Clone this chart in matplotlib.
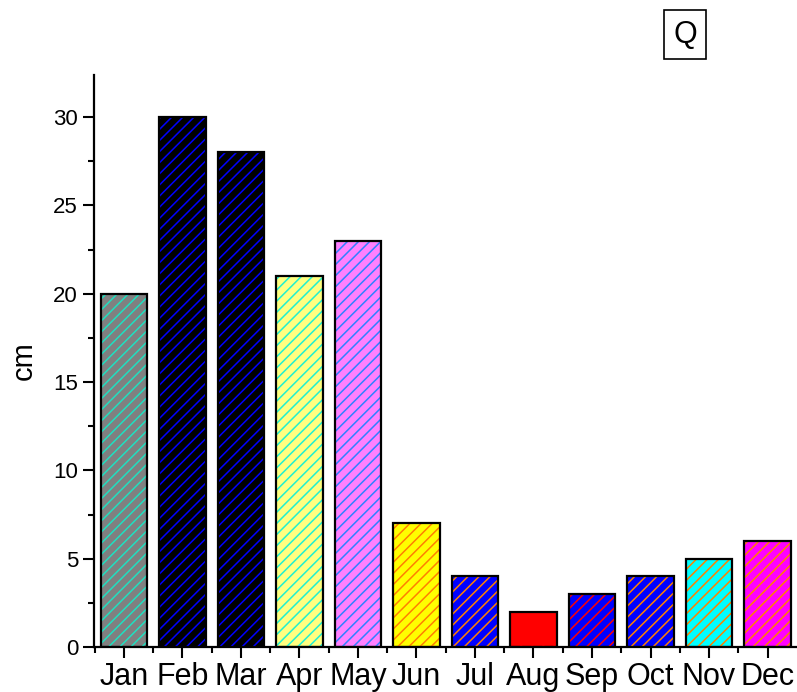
import matplotlib
matplotlib.use("Agg")
import matplotlib.pyplot as plt
from matplotlib.ticker import MultipleLocator, FixedLocator

plt.rcParams['font.family'] = ['Liberation Sans', 'DejaVu Sans']
plt.rcParams['hatch.linewidth'] = 1.1

months = ['Jan', 'Feb', 'Mar', 'Apr', 'May', 'Jun', 'Jul', 'Aug', 'Sep', 'Oct', 'Nov', 'Dec']
values = [20, 30, 28, 21, 23, 7, 4, 2, 3, 4, 5, 6]
face_colors = ['#808080', '#000000', '#000000', '#ffff80', '#ff80ff', '#ffff00',
               '#0000ff', '#ff0000', '#0000ff', '#0000ff', '#00ffff', '#ff00ff']
hatch_colors = ['#20e0c0', '#0000ff', '#0000ff', '#20f0d0', '#3080ff', '#ff8000',
                '#ff8000', '#ff0000', '#ff0000', '#ff8000', '#ff8000', '#ff8000']

fig = plt.figure(figsize=(7.97, 6.92), dpi=100)
ax = fig.add_axes([0.118, 0.065, 0.881, 0.827])

x = list(range(len(months)))
w = 0.79
ax.bar(x, values, width=w, color=face_colors, linewidth=0, zorder=2)
for xi, v, hc in zip(x, values, hatch_colors):
    ax.bar(xi, v, width=w, facecolor='none', edgecolor=hc, hatch='///', linewidth=0, zorder=3)
ax.bar(x, values, width=w, facecolor='none', edgecolor='black', linewidth=1.6, zorder=4)

ax.set_xlim(-0.51, 11.49)
ax.set_ylim(0, 32.4)
ax.set_xticks(x)
ax.set_xticklabels(months, fontsize=22)
ax.xaxis.set_minor_locator(FixedLocator([i - 0.5 for i in range(13)]))
ax.yaxis.set_major_locator(MultipleLocator(5))
ax.yaxis.set_minor_locator(MultipleLocator(2.5))
ax.tick_params(axis='y', which='major', labelsize=16, length=8, width=1.5, direction='out')
ax.tick_params(axis='y', which='minor', length=4, width=1.5, direction='out')
ax.tick_params(axis='x', which='major', length=8, width=1.5, direction='out', pad=3)
ax.tick_params(axis='x', which='minor', length=4, width=1.5, direction='out')

for s in ['top', 'right']:
    ax.spines[s].set_visible(False)
for s in ['left', 'bottom']:
    ax.spines[s].set_linewidth(1.6)

ax.set_ylabel('cm', fontsize=21, labelpad=11)

fig.text(0.8595, 0.950, 'Q', fontsize=22, ha='center', va='center',
         bbox=dict(boxstyle='square,pad=0.3', facecolor='white', edgecolor='black', linewidth=1.2))

fig.savefig('out.png', dpi=100)
